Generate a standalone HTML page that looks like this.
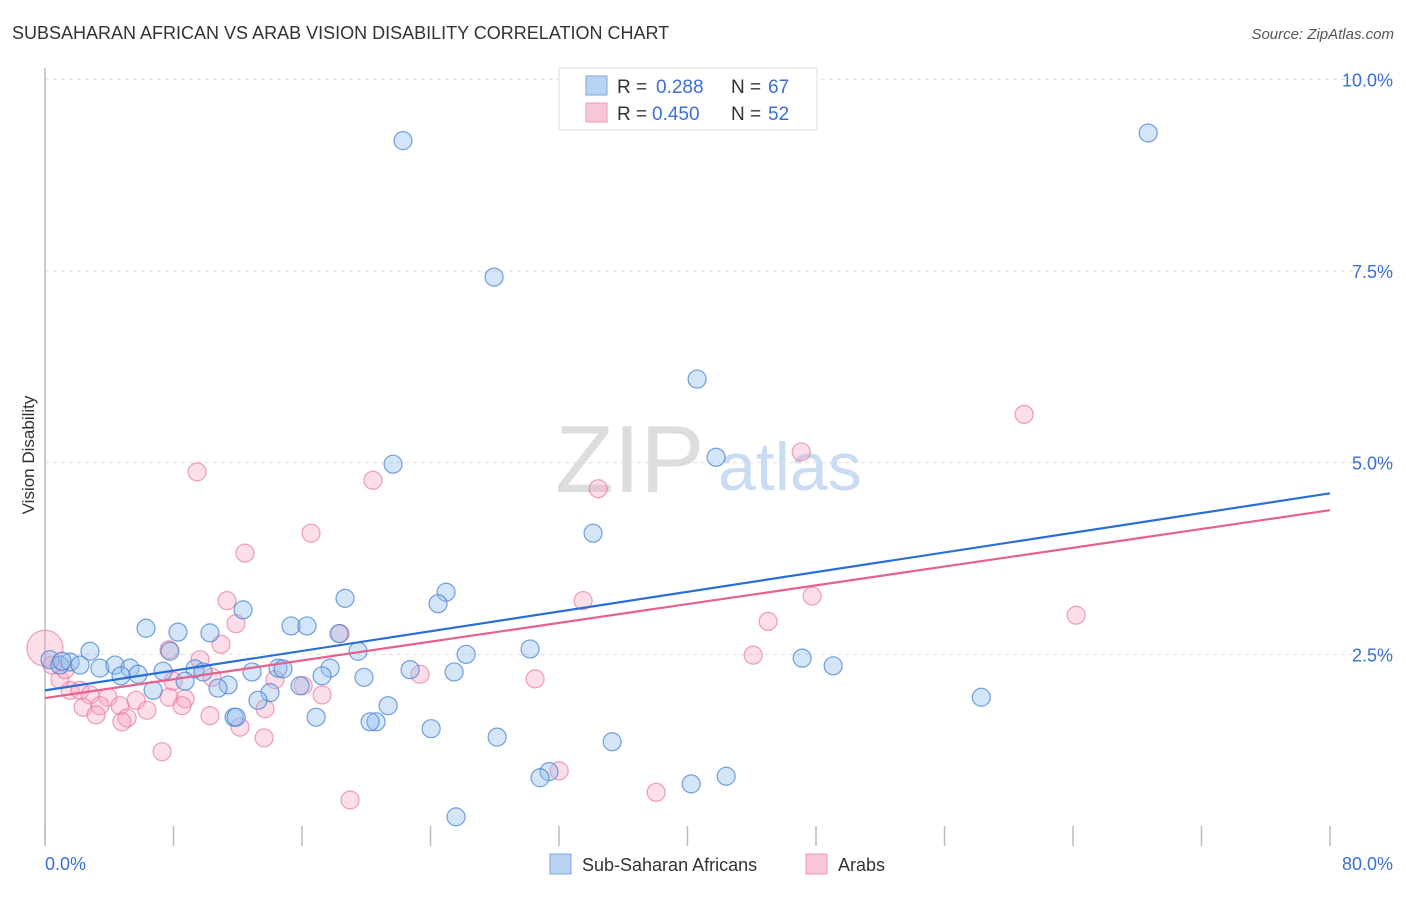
<!DOCTYPE html>
<html><head><meta charset="utf-8"><style>
body{margin:0;background:#fff;font-family:"Liberation Sans",sans-serif;}
svg text{font-family:"Liberation Sans",sans-serif;}
</style></head><body>
<svg id="chart" width="1406" height="892" viewBox="0 0 1406 892" xmlns="http://www.w3.org/2000/svg">
<text x="12" y="39" font-size="18" fill="#333">SUBSAHARAN AFRICAN VS ARAB VISION DISABILITY CORRELATION CHART</text>
<text x="1394" y="39" font-size="15" font-style="italic" fill="#555" text-anchor="end">Source: ZipAtlas.com</text>
<g>
<text x="555" y="492" font-size="96" font-family="Liberation Serif" fill="#ddd">ZIP</text>
<text x="718" y="490" font-size="68" fill="#c9dcf3">atlas</text>
</g>
<g id="grid"></g>
<line x1="45" y1="68" x2="45" y2="846" stroke="#bbb" stroke-width="1.5"/>
<g id="xticks"></g>
<g id="ylabels"></g>
<text transform="translate(34,455) rotate(-90)" font-size="17" fill="#333" text-anchor="middle">Vision Disability</text>
<text x="45" y="870" font-size="18" fill="#3b6fd4">0.0%</text>
<text x="1393" y="870" font-size="18" fill="#3b6fd4" text-anchor="end">80.0%</text>
<g id="pts"></g>
<g id="trends"></g>
<g>
<rect x="559" y="68" width="258" height="62" fill="#fff" stroke="#ddd"/>
<rect x="586" y="76" width="21" height="19" fill="#b8d2f3" stroke="#7fa7e0"/>
<text x="617" y="93" font-size="19" fill="#333">R = </text><text x="656" y="93" font-size="19" fill="#3b6fd4">0.288</text>
<text x="731" y="93" font-size="19" fill="#333">N = </text><text x="768" y="93" font-size="19" fill="#3b6fd4">67</text>
<rect x="586" y="103" width="21" height="19" fill="#f9c8d7" stroke="#ee9ab5"/>
<text x="617" y="120" font-size="19" fill="#333">R = </text><text x="652" y="120" font-size="19" fill="#3b6fd4">0.450</text>
<text x="731" y="120" font-size="19" fill="#333">N = </text><text x="768" y="120" font-size="19" fill="#3b6fd4">52</text>
</g>
<g>
<rect x="550" y="854" width="21" height="20" fill="#b8d2f3" stroke="#7fa7e0"/>
<text x="582" y="871" font-size="18" fill="#333">Sub-Saharan Africans</text>
<rect x="806" y="854" width="21" height="20" fill="#f9c8d7" stroke="#ee9ab5"/>
<text x="838" y="871" font-size="18" fill="#333">Arabs</text>
</g>
</svg>
<script>
const yTicks=[2.5,5.0,7.5,10.0];
const yTickLabels=["2.5%","5.0%","7.5%","10.0%"];
const xTicks=[0,8,16,24,32,40,48,56,64,72,80];
const blueX=[22.29,68.68,27.96,40.60,41.78,21.67,34.12,24.97,18.68,24.47,12.33,6.29,8.28,10.27,15.32,16.31,18.31,30.20,26.22,19.49,2.80,47.14,49.07,0.31,0.93,1.56,2.18,3.42,4.36,5.29,5.79,7.35,9.34,7.78,9.84,11.40,10.77,8.72,12.89,14.51,14.82,17.75,17.25,22.73,25.47,19.86,14.01,13.26,6.73,4.73,15.88,16.88,11.77,20.61,21.36,24.04,28.15,35.31,42.41,40.23,31.38,30.82,25.59,58.29,20.24,1.06,11.9];
const blueY=[9.20,9.30,7.42,6.09,5.07,4.98,4.08,3.31,3.23,3.16,3.08,2.84,2.79,2.78,2.87,2.87,2.77,2.57,2.50,2.54,2.54,2.45,2.35,2.43,2.36,2.40,2.36,2.32,2.36,2.32,2.24,2.28,2.31,2.54,2.27,2.10,2.06,2.15,2.27,2.32,2.31,2.32,2.22,2.30,2.27,2.20,2.00,1.90,2.03,2.22,2.09,1.68,1.68,1.62,1.83,1.53,1.42,1.36,0.91,0.81,0.97,0.89,0.38,1.94,1.62,2.41,1.68];
const arabX=[0,9.47,20.42,34.44,47.08,60.96,16.56,12.45,11.33,33.50,47.76,64.20,45.02,11.89,10.96,18.37,7.72,9.65,44.09,14.32,16.07,30.51,23.35,7.97,8.72,10.40,1.56,2.18,0.93,2.80,3.92,4.67,3.42,2.37,5.67,6.35,7.72,8.53,5.11,3.18,4.79,10.27,12.14,13.70,13.64,17.25,7.29,18.99,38.05,32.01,0.44,1.25];
const arabY=[2.58,4.88,4.77,4.66,5.14,5.63,4.08,3.82,3.20,3.20,3.26,3.01,2.93,2.90,2.63,2.77,2.56,2.43,2.49,2.17,2.09,2.18,2.24,2.15,1.92,2.20,2.03,2.03,2.17,1.97,1.94,1.83,1.83,1.81,1.90,1.77,1.94,1.83,1.67,1.71,1.62,1.70,1.55,1.79,1.41,1.97,1.23,0.60,0.70,0.98,2.36,2.30];
const blueTrend=[2.03,4.60];
const arabTrend=[1.93,4.38];
const NS="http://www.w3.org/2000/svg";
const sx=v=>45+v*(1285/80);
const sy=v=>846-v*76.67;
function mk(tag,parent,attrs){const e=document.createElementNS(NS,tag);for(const k in attrs)e.setAttribute(k,attrs[k]);parent.appendChild(e);return e;}
const grid=document.getElementById('grid'),yl=document.getElementById('ylabels');
yTicks.forEach((t,i)=>{
 const l=mk('line',grid,{x1:45,x2:1394,y1:sy(t),y2:sy(t),stroke:'#ddd','stroke-dasharray':'4,4'});
 
 
 const tx=mk('text',yl,{x:1393,y:sy(t)+7,'font-size':18,fill:'#3b6fd4','text-anchor':'end'});
 tx.textContent=yTickLabels[i];
 
 
});
const xt=document.getElementById('xticks');
xTicks.forEach(t=>{
 const l=mk('line',xt,{x1:sx(t),x2:sx(t),y1:826,y2:846,stroke:'#bbb','stroke-width':1.5});
 
 
});
const pts=document.getElementById('pts');
arabX.forEach((x,i)=>{
 const c=mk('circle',pts,{cx:sx(x),cy:sy(arabY[i]),r:i===0?18:9,fill:'rgba(245,160,188,0.35)',stroke:'rgba(232,120,160,0.7)','stroke-width':1.2});
 
 
});
blueX.forEach((x,i)=>{
 const c=mk('circle',pts,{cx:sx(x),cy:sy(blueY[i]),r:9,fill:'rgba(150,190,238,0.4)',stroke:'rgba(70,130,210,0.75)','stroke-width':1.2});
 
 
});
const tr=document.getElementById('trends');
const t1=mk('line',tr,{x1:sx(0),y1:sy(blueTrend[0]),x2:sx(80),y2:sy(blueTrend[1]),stroke:'#2a6fd8','stroke-width':2.2});


const t2=mk('line',tr,{x1:sx(0),y1:sy(arabTrend[0]),x2:sx(80),y2:sy(arabTrend[1]),stroke:'#e8608e','stroke-width':2.2});


</script>
</body></html>
